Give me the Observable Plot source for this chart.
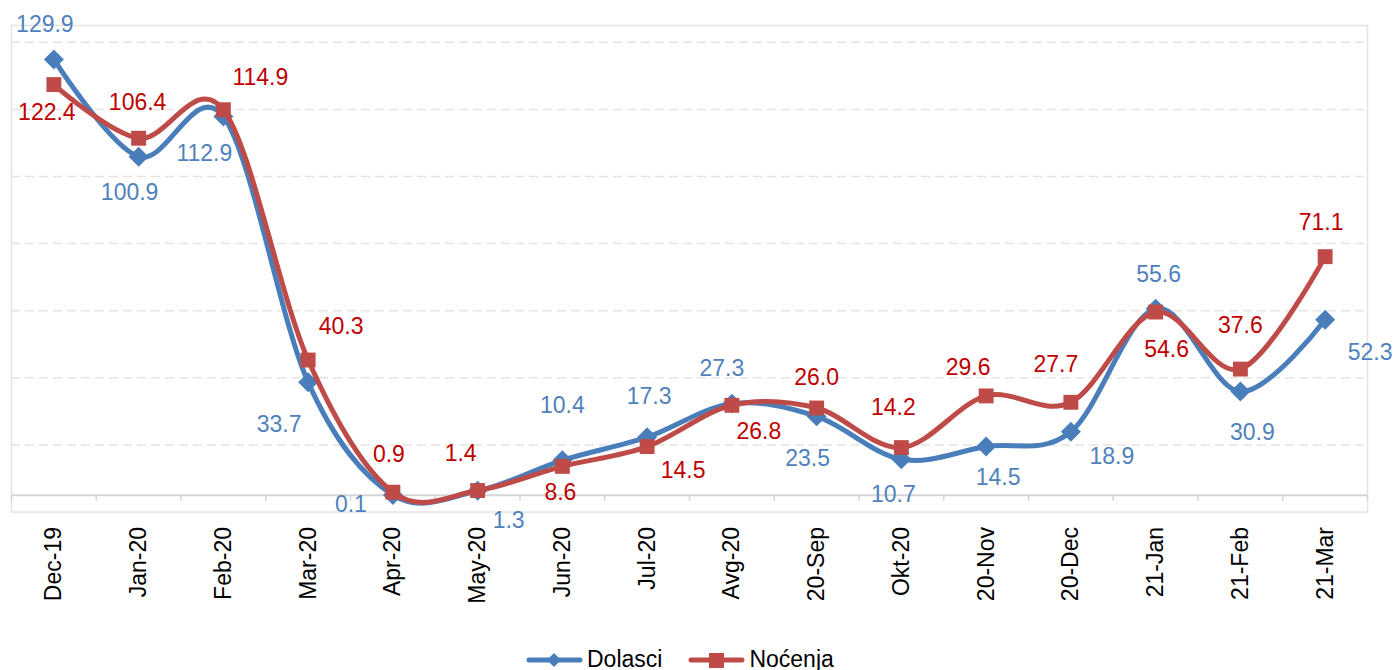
<!DOCTYPE html>
<html>
<head>
<meta charset="utf-8">
<script src="https://cdn.jsdelivr.net/npm/d3@7"></script>
<script src="https://cdn.jsdelivr.net/npm/@observablehq/plot@0.6"></script>
<style>
  html, body { margin: 0; padding: 0; background: #fff; }
  body { width: 1396px; height: 670px; overflow: hidden; position: relative; font-family: "Liberation Sans", Arial, sans-serif; }
  #legend { position: absolute; left: 526px; top: 646px; display: flex; align-items: center; font-size: 23px; color: #000; white-space: nowrap; }
  .item { display: flex; align-items: center; }
  .item svg { display: block; margin-right: 3px; }
</style>
</head>
<body>
<div id="chart"></div>
<div id="legend"></div>
<script>
// ---- data ----
const categories = ["Dec-19","Jan-20","Feb-20","Mar-20","Apr-20","May-20","Jun-20","Jul-20","Avg-20","20-Sep","Okt-20","20-Nov","20-Dec","21-Jan","21-Feb","21-Mar"];
const dolasci = [129.9,100.9,112.9,33.7,0.1,1.3,10.4,17.3,27.3,23.5,10.7,14.5,18.9,55.6,30.9,52.3];
const nocenja = [122.4,106.4,114.9,40.3,0.9,1.4,8.6,14.5,26.8,26.0,14.2,29.6,27.7,54.6,37.6,71.1];
const gridValues = [15,35,55,75,95,115,135];
const seriesNames = ["Dolasci","Noćenja"];

// ---- layout (label offsets in px, not data) ----
const dolasciOffsets = [[-9,-35],[-9,36],[-19,37],[-29,42],[-42,10],[31,30],[0,-55],[2,-41],[-10,-35],[-9,42],[-8,35],[12,31],[41,25],[3,-34],[12,41],[45,33]];
const nocenjaOffsets = [[-7,28],[-1,-36],[37,-32],[33,-33],[-4,-38],[-17,-37],[-2,26],[36,24],[27,26],[0,-30],[-8,-40],[-18,-28],[-15,-38],[11,38],[0,-43],[-4,-34]];

const blueLine = "#4A7EBB", redLine = "#BE4B48";
const blueText = "#4F81BD", redText = "#C00000";

const rowsD = dolasci.map((v, i) => ({i, v}));
const rowsN = nocenja.map((v, i) => ({i, v}));

const W = 1396, H = 640;
const labelMarks = (rows, offs, color) => rows.map((r, k) =>
  Plot.text([r], {x: "i", y: "v", text: d => d.v.toFixed(1), dx: offs[k][0], dy: offs[k][1],
    fill: color, fontSize: 23, textAnchor: "middle"}));

const chart = Plot.plot({
  width: W, height: H,
  marginLeft: 11, marginRight: 29, marginTop: 25, marginBottom: H - 511.5,
  style: {fontFamily: "'Liberation Sans', Arial, sans-serif", background: "#fff"},
  x: {type: "linear", domain: [-0.5, categories.length - 0.5]},
  y: {domain: [-5, 140], axis: null},
  marks: [
    Plot.ruleY(gridValues, {stroke: "#e4e4e4", strokeWidth: 1.5, strokeDasharray: "9,5"}),
    Plot.frame({stroke: "#e4e4e4", strokeWidth: 1.5}),
    Plot.ruleY([0], {stroke: "#d6d6d6", strokeWidth: 2}),
    Plot.ruleX(d3.range(categories.length + 1).map(i => i - 0.5), {y1: 0, y2: -1.8, stroke: "#d6d6d6", strokeWidth: 1.5}),
    Plot.axisX({ticks: d3.range(categories.length), tickFormat: i => categories[i], tickRotate: -90,
      tickSize: 0, tickPadding: 15, fontSize: 23, fill: "#000", label: null}),
    Plot.line(rowsD, {x: "i", y: "v", curve: "cardinal", stroke: blueLine, strokeWidth: 5}),
    Plot.dot(rowsD, {x: "i", y: "v", symbol: "diamond2", r: 9, fill: blueLine, stroke: "none"}),
    Plot.line(rowsN, {x: "i", y: "v", curve: "cardinal", stroke: redLine, strokeWidth: 5}),
    Plot.dot(rowsN, {x: "i", y: "v", symbol: "square", r: 8.4, fill: redLine, stroke: "none"}),
    ...labelMarks(rowsD, dolasciOffsets, blueText),
    ...labelMarks(rowsN, nocenjaOffsets, redText)
  ]
});
document.getElementById("chart").appendChild(chart);

// legend
const legend = document.getElementById("legend");
const swatch = (color, shape) => {
  const m = shape === "diamond"
    ? `<path d="M28,3 L35,10 L28,17 L21,10 Z" fill="${color}"/>`
    : `<rect x="21" y="3" width="15" height="15" fill="${color}"/>`;
  return `<svg width="58" height="20" viewBox="0 0 58 20"><line x1="3" y1="10" x2="54" y2="10" stroke="${color}" stroke-width="5" stroke-linecap="round"/>${m}</svg>`;
};
legend.innerHTML =
  `<div class="item" style="margin-right:26px">${swatch(blueLine,"diamond")}<span>${seriesNames[0]}</span></div>` +
  `<div class="item">${swatch(redLine,"square")}<span>${seriesNames[1]}</span></div>`;
</script>
</body>
</html>
